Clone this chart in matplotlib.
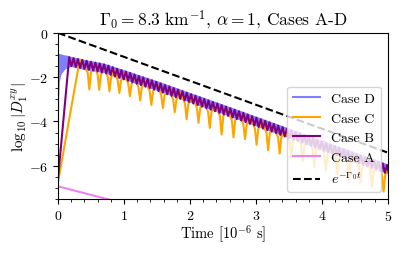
import matplotlib
matplotlib.use("Agg")
import matplotlib.pyplot as plt
from matplotlib.lines import Line2D
from matplotlib.ticker import MultipleLocator

plt.rcParams["font.family"] = "serif"
plt.rcParams["font.serif"] = ["cmr10"]
plt.rcParams["mathtext.fontset"] = "cm"
plt.rcParams["axes.formatter.use_mathtext"] = True

# ── Case D: fast oscillation, drawn as a band (upper / lower envelope) ──────
d_t  = [0.0, 0.01, 0.02, 0.045, 0.1, 0.15, 0.2, 0.4, 0.7, 1.0,
        1.5, 2.0, 2.5, 3.0, 3.5, 4.0, 4.5, 5.0]
d_hi = [-0.91, -0.92, -0.93, -0.95, -0.99, -1.02, -1.06, -1.20, -1.37, -1.66,
        -2.16, -2.69, -3.22, -3.76, -4.30, -4.84, -5.38, -5.92]
d_lo = [-6.50, -3.00, -2.20, -1.86, -1.64, -1.55, -1.52, -1.66, -1.80, -2.10,
        -2.60, -3.13, -3.66, -4.20, -4.74, -5.28, -5.82, -6.36]

# ── Case C: rounded tops with sharp dips ────────────────────────────────────
c_t = [0.0, 0.33,
       0.45, 0.475, 0.50, 0.55, 0.60, 0.625, 0.65, 0.70,
       0.755, 0.78, 0.805, 0.855, 0.905, 0.93, 0.955, 1.01,
       1.065, 1.09, 1.115, 1.1675, 1.22, 1.245, 1.27, 1.33,
       1.39, 1.415, 1.44, 1.5025, 1.565, 1.59, 1.615, 1.68,
       1.745, 1.77, 1.795, 1.86, 1.925, 1.95, 1.975, 2.04,
       2.105, 2.13, 2.155, 2.215, 2.275, 2.30, 2.325, 2.39,
       2.455, 2.48, 2.505, 2.57, 2.635, 2.66, 2.685, 2.7475,
       2.81, 2.835, 2.86, 2.9225, 2.985, 3.01, 3.035, 3.0975,
       3.16, 3.185, 3.21, 3.2725, 3.335, 3.36, 3.385, 3.4475,
       3.51, 3.535, 3.56, 3.6225, 3.685, 3.71, 3.735, 3.7975,
       3.86, 3.885, 3.91, 3.9725, 4.035, 4.06, 4.085, 4.1475,
       4.21, 4.235, 4.26, 4.3225, 4.385, 4.41, 4.435, 4.4975,
       4.56, 4.585, 4.61, 4.6725, 4.735, 4.76, 4.785, 4.8475,
       4.91, 4.935, 4.96, 5.02]
c_v = [-6.75, -1.20,
       -1.79, -2.55, -1.79, -1.43, -1.88, -2.57, -1.88, -1.52,
       -2.00, -2.64, -2.00, -1.68, -2.15, -2.72, -2.15, -1.83,
       -2.31, -2.86, -2.31, -1.99, -2.47, -3.05, -2.47, -2.15,
       -2.64, -3.25, -2.64, -2.32, -2.82, -3.40, -2.82, -2.51,
       -3.01, -3.58, -3.01, -2.70, -3.20, -3.90, -3.20, -2.89,
       -3.39, -4.06, -3.39, -3.08, -3.57, -4.29, -3.57, -3.27,
       -3.76, -4.59, -3.76, -3.46, -3.95, -4.72, -3.95, -3.64,
       -4.14, -4.80, -4.14, -3.83, -4.33, -5.05, -4.33, -4.02,
       -4.52, -5.30, -4.52, -4.21, -4.71, -5.45, -4.71, -4.40,
       -4.90, -5.62, -4.90, -4.59, -5.09, -5.80, -5.09, -4.78,
       -5.28, -6.05, -5.28, -4.97, -5.47, -6.20, -5.47, -5.16,
       -5.65, -6.38, -5.65, -5.35, -5.84, -6.62, -5.84, -5.54,
       -6.03, -6.75, -6.03, -5.73, -6.22, -6.95, -6.22, -5.92,
       -6.41, -7.17, -6.41, -6.05]

# ── Case B: small zigzag riding on the decay ────────────────────────────────
b_t = [0.0,
       0.170, 0.203, 0.236, 0.269, 0.302, 0.335, 0.368, 0.401, 0.434, 0.467,
       0.500, 0.533, 0.566, 0.599, 0.632, 0.665, 0.698, 0.731, 0.764, 0.797,
       0.830, 0.863, 0.896, 0.929, 0.962, 0.995, 1.028, 1.061, 1.094, 1.127,
       1.160, 1.193, 1.226, 1.259, 1.292, 1.325, 1.358, 1.391, 1.424, 1.457,
       1.490, 1.523, 1.556, 1.589, 1.622, 1.655, 1.688, 1.721, 1.754, 1.787,
       1.820, 1.853, 1.886, 1.919, 1.952, 1.985, 2.018, 2.051, 2.084, 2.117,
       2.150, 2.183, 2.216, 2.249, 2.282, 2.315, 2.348, 2.381, 2.414, 2.447,
       2.480, 2.513, 2.546, 2.579, 2.612, 2.645, 2.678, 2.711, 2.744, 2.777,
       2.810, 2.843, 2.876, 2.909, 2.942, 2.975, 3.008, 3.041, 3.074, 3.107,
       3.140, 3.173, 3.206, 3.239, 3.272, 3.305, 3.338, 3.371, 3.404, 3.437,
       3.470, 3.503, 3.536, 3.569, 3.602, 3.635, 3.668, 3.701, 3.734, 3.767,
       3.800, 3.833, 3.866, 3.899, 3.932, 3.965, 3.998, 4.031, 4.064, 4.097,
       4.130, 4.163, 4.196, 4.229, 4.262, 4.295, 4.328, 4.361, 4.394, 4.427,
       4.460, 4.493, 4.526, 4.559, 4.592, 4.625, 4.658, 4.691, 4.724, 4.757,
       4.790, 4.823, 4.856, 4.889, 4.922, 4.955, 4.988, 5.021]
b_v = [-6.58,
       -1.10, -1.50, -1.14, -1.54, -1.18, -1.58, -1.22, -1.62, -1.26, -1.66,
       -1.30, -1.70, -1.34, -1.74, -1.38, -1.78, -1.42, -1.83, -1.48, -1.90,
       -1.55, -1.97, -1.62, -2.03, -1.68, -2.10, -1.75, -2.16, -1.81, -2.23,
       -1.88, -2.30, -1.95, -2.36, -2.01, -2.43, -2.08, -2.49, -2.14, -2.56,
       -2.21, -2.63, -2.28, -2.70, -2.35, -2.77, -2.42, -2.84, -2.49, -2.91,
       -2.56, -2.98, -2.63, -3.05, -2.70, -3.12, -2.77, -3.19, -2.84, -3.26,
       -2.91, -3.33, -2.98, -3.40, -3.05, -3.47, -3.12, -3.54, -3.19, -3.61,
       -3.26, -3.68, -3.33, -3.75, -3.40, -3.82, -3.47, -3.89, -3.54, -3.96,
       -3.61, -4.03, -3.69, -4.11, -3.76, -4.18, -3.83, -4.25, -3.90, -4.32,
       -3.97, -4.39, -4.04, -4.46, -4.11, -4.53, -4.19, -4.61, -4.26, -4.68,
       -4.33, -4.75, -4.40, -4.82, -4.47, -4.89, -4.54, -4.96, -4.61, -5.03,
       -4.68, -5.10, -4.76, -5.18, -4.83, -5.25, -4.90, -5.32, -4.97, -5.39,
       -5.04, -5.46, -5.11, -5.53, -5.18, -5.60, -5.25, -5.68, -5.33, -5.75,
       -5.40, -5.82, -5.47, -5.89, -5.54, -5.96, -5.61, -6.03, -5.68, -6.10,
       -5.75, -6.18, -5.83, -6.25, -5.90, -6.32, -5.97, -6.39]

# ── Case A: starts near the bottom and leaves the axes ──────────────────────
a_t = [0.0, 0.4, 0.8, 1.2]
a_v = [-6.93, -7.24, -7.55, -7.86]

# ── Reference decay log10(exp(-Gamma0 t)) ───────────────────────────────────
ref_t = [0.0, 5.0]
ref_v = [0.0, -5.41]

fig = plt.figure(figsize=(4.07, 2.55), dpi=100)
ax = fig.add_axes([0.1425, 0.216, 0.8105, 0.651])

ax.fill_between(d_t, d_lo, d_hi, color="blue", alpha=0.5, linewidth=0)
ax.plot(c_t, c_v, color="orange", linewidth=1.5)
ax.plot(b_t, b_v, color="purple", linewidth=1.5)
ax.plot(a_t, a_v, color="violet", linewidth=1.5)
ax.plot(ref_t, ref_v, color="black", linestyle="--", linewidth=1.5)

handles = [
    Line2D([], [], color="blue", alpha=0.5, linewidth=1.5),
    Line2D([], [], color="orange", linewidth=1.5),
    Line2D([], [], color="purple", linewidth=1.5),
    Line2D([], [], color="violet", linewidth=1.5),
    Line2D([], [], color="black", linestyle="--", linewidth=1.5),
]
labels = ["Case D", "Case C", "Case B", "Case A", r"$e^{-\Gamma_0 t}$"]
ax.legend(handles, labels, loc="lower right", fontsize=10)

ax.set_xlim(0, 5)
ax.set_ylim(-7.5, 0)
ax.xaxis.set_minor_locator(MultipleLocator(0.2))
ax.yaxis.set_minor_locator(MultipleLocator(0.5))
ax.tick_params(labelsize=10)

ax.set_title(r"$\Gamma_0 = 8.3\ \mathrm{km}^{-1}$, $\alpha = 1$, Cases A-D", fontsize=12.5)
ax.set_xlabel(r"Time [$10^{-6}$ s]", fontsize=10.5, labelpad=0)
ax.set_ylabel(r"$\log_{10}|D_1^{xy}|$", fontsize=11, labelpad=-1)

fig.savefig("out.png", dpi=100)
